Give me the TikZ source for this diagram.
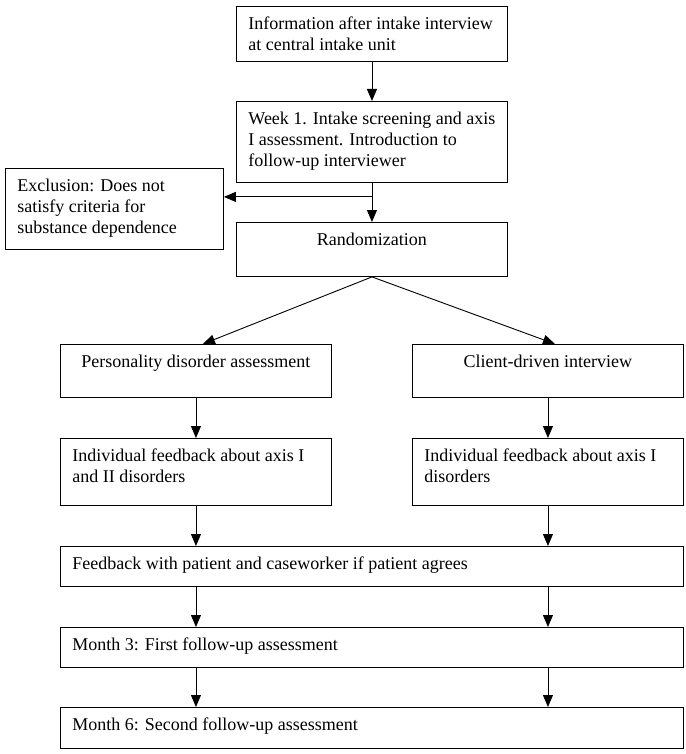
\documentclass[tikz,border=0pt]{standalone}
\usepackage{fontspec}
\setmainfont{Liberation Serif}
\usepackage{tikz}
\usetikzlibrary{calc,arrows.meta}

\newcommand{\boxtext}[3]{\parbox[t][#2][t]{#1}{\raggedright\rule{0pt}{23.5pt}#3}}

\begin{document}
\begin{tikzpicture}[x=1pt, y=-1pt,
    box/.style={draw, line width=0.9pt, anchor=north west, inner xsep=12pt, inner ysep=0pt,
        font=\fontsize{18}{21}\selectfont},
    arr/.style={-{Triangle[length=12pt,width=10pt]}, line width=0.9pt}]
    \useasboundingbox (0,0) rectangle (685,754);
    % top part
    \node[box] (info) at (236,6) {\boxtext{247pt}{55pt}{Information after intake interview\\at central intake unit}};
    \node[box] (week1) at (236,101) {\boxtext{247pt}{81pt}{Week 1. Intake screening and axis\\I assessment. Introduction to\\follow-up interviewer}};
    \node[box] (excl) at (5,168) {\boxtext{194pt}{81pt}{Exclusion: Does not\\satisfy criteria for\\substance dependence}};
    \node[box] (rand) at (236,222) {\boxtext{247pt}{54pt}{\centering Randomization}};
    % two arms
    \node[box] (pers) at (60,344) {\boxtext{247pt}{53pt}{\centering Personality disorder assessment}};
    \node[box] (client) at (412,344) {\boxtext{247pt}{53pt}{\centering Client-driven interview}};
    \node[box] (indiv1) at (60,438) {\boxtext{247pt}{67pt}{Individual feedback about axis I\\and II disorders}};
    \node[box] (indiv2) at (412,438) {\boxtext{247pt}{67pt}{Individual feedback about axis I\\disorders}};
    % joint part
    \node[box] (feedback) at (60,546) {\boxtext{599pt}{40pt}{Feedback with patient and caseworker if patient agrees}};
    \node[box] (month3) at (60,627) {\boxtext{599pt}{40pt}{Month 3: First follow-up assessment}};
    \node[box] (month6) at (60,707) {\boxtext{599pt}{41pt}{Month 6: Second follow-up assessment}};

    \coordinate (split) at ($(week1.south)+(0,14)$);
    \draw[arr] (info.south) -- (week1.north);
    \draw[arr] (week1.south) -- (rand.north);
    \draw[arr] (split) -- (split -| excl.east);
    \draw[arr] (rand.south) -- ($(pers.north)+(7,0)$);
    \draw[arr] (rand.south) -- ($(client.north)+(7,0)$);
    \draw[arr] (pers.south) -- (indiv1.north);
    \draw[arr] (client.south) -- (indiv2.north);
    \foreach \arm in {indiv1,indiv2} {
        \draw[arr] (\arm.south) -- (\arm.south |- feedback.north);
        \draw[arr] (\arm.south |- feedback.south) -- (\arm.south |- month3.north);
        \draw[arr] (\arm.south |- month3.south) -- (\arm.south |- month6.north);
    }
\end{tikzpicture}
\end{document}
